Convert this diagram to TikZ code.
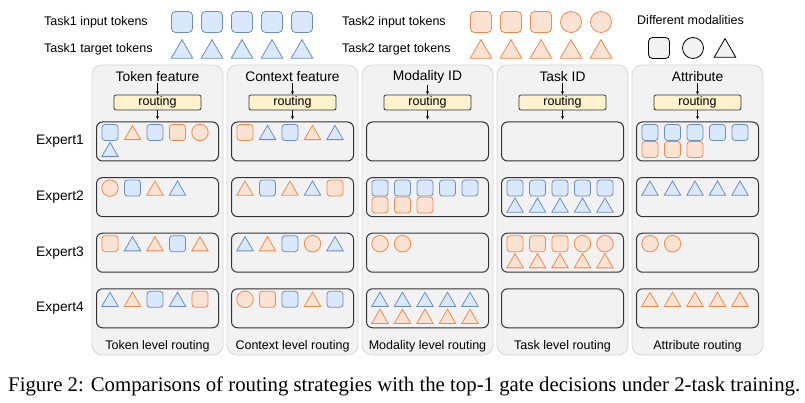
\documentclass[tikz,border=0pt]{standalone}
\usepackage{fontspec}
\setmainfont{Liberation Serif}
\setsansfont{Liberation Sans}
\usetikzlibrary{calc,positioning,shapes.geometric,arrows.meta}

\definecolor{bline}{HTML}{6C8EBF}
\definecolor{bfill}{HTML}{DAE8FC}
\definecolor{oline}{HTML}{F08A4B}
\definecolor{ofill}{HTML}{FBE3D4}
\definecolor{pfill}{HTML}{F2F2F2}
\definecolor{pline}{HTML}{D6D6D6}
\definecolor{rfill}{HTML}{FFF2CC}

\tikzset{
	tk/.style={draw, line width=0.8pt, inner sep=0pt, outer sep=0pt},
	bs/.style={tk, draw=bline, fill=bfill, rectangle, rounded corners=3pt, minimum size=16pt},
	os/.style={tk, draw=oline, fill=ofill, rectangle, rounded corners=3pt, minimum size=16pt},
	ks/.style={tk, draw=black, fill=pfill, rectangle, rounded corners=3pt, minimum size=16pt},
	bt/.style={tk, draw=bline, fill=bfill, regular polygon, regular polygon sides=3, minimum size=19pt, yshift=-2.4pt},
	ot/.style={tk, draw=oline, fill=ofill, regular polygon, regular polygon sides=3, minimum size=19pt, yshift=-2.4pt},
	kt/.style={tk, draw=black, fill=pfill, regular polygon, regular polygon sides=3, minimum size=19pt, yshift=-2.4pt},
	oc/.style={tk, draw=oline, fill=ofill, circle, minimum size=16.5pt},
	kc/.style={tk, draw=black, fill=pfill, circle, minimum size=16.5pt},
	big/.style={minimum size=21pt, rounded corners=4pt},
	bigtri/.style={minimum size=25pt, yshift=-0.7pt},
	panel/.style={draw=pline, fill=pfill, line width=0.8pt, rounded corners=10pt, minimum width=131pt, minimum height=290pt},
	expert/.style={draw=black!80, fill=pfill, line width=1pt, rounded corners=6pt, minimum width=122pt, minimum height=39pt},
	routing/.style={draw=black!80, fill=rfill, line width=0.8pt, rounded corners=2pt, minimum width=87pt, minimum height=15pt, inner sep=0pt, font=\sffamily\fontsize{12.5}{14}\selectfont},
	title/.style={font=\sffamily\fontsize{13.8}{15}\selectfont, inner sep=1pt},
	lbl/.style={font=\sffamily\fontsize{12.5}{14}\selectfont, inner sep=0pt},
	arr/.style={-{Stealth[length=3.5pt,width=3pt]}, line width=0.6pt},
}

% tokens of one line in an expert box: box, line offset, list of styles
\newcommand\tokline[3]{\foreach \k [count=\n] in {#3}{\node[\k] (#1-#2-\n) at ($(#1.north west)+({-8.5+22.5*\n},#2)$) {};}}

\begin{document}
\begin{tikzpicture}[x=1pt,y=-1pt,font=\sffamily]
	\useasboundingbox (0,0) rectangle (805,403);
	%%%%% LEGEND %%%%%
	\node[lbl, anchor=west] (l1) at (44,22) {Task1 input tokens};
	\node[lbl, anchor=west] (l2) at (44,49) {Task1 target tokens};
	\node[lbl, anchor=west] (l3) at (342,22) {Task2 input tokens};
	\node[lbl, anchor=west] (l4) at (342,49) {Task2 target tokens};
	\node[lbl, anchor=west] (l5) at (637,20) {Different modalities};
	\foreach \n in {1,...,5} {
		\node[bs,big] (ai\n) at ({152+30*\n},22) {};
		\node[bt,bigtri] (at\n) at ({152+30*\n},49) {};
		\node[ot,bigtri] (bt\n) at ({451+30*\n},49) {};
	}
	\foreach \k [count=\n] in {os,os,os,oc,oc}
		\node[\k,big] (bi\n) at ({451+30*\n},22) {};
	\node[ks,big] (m1) at (659,48) {};
	\node[kc,big] (m2) at (693,48) {};
	\node[kt,bigtri] (m3) at (725,48) {};
	
	%%%%% PANELS %%%%%
	\foreach \i/\ttl/\bot [evaluate=\i as \px using {92+135*(\i-1)+65.5}] in
		{1/Token feature/Token level routing, 2/Context feature/Context level routing,
		 3/Modality ID/Modality level routing, 4/Task ID/Task level routing, 5/Attribute/Attribute routing} {
		\node[panel] (p\i) at (\px,210) {};
		\node[title] (t\i) at (\px,77) {\ttl};
		\node[routing] (r\i) at (\px,102.5) {routing};
		\foreach \r in {1,...,4}
			\node[expert] (e\i-\r) at (\px,{141.5+55.6*(\r-1)}) {};
		\node[lbl] (b\i) at (\px,346) {\bot};
		\draw[arr] (t\i) -- (r\i);
		\draw[arr, shorten >=2pt] (r\i) -- (e\i-1);
	}
	\foreach \r in {1,...,4}
		\node[title, left=11pt of e1-\r] (x\r) {Expert\r};
	
	%%%%% TOKENS %%%%%
	\tokline{e1-1}{11}{bs,ot,bs,os,oc}
	\tokline{e1-1}{28}{bt}
	\tokline{e1-2}{11}{oc,bs,ot,bt}
	\tokline{e1-3}{11}{os,bt,ot,bs,ot}
	\tokline{e1-4}{11}{bt,ot,bs,bt,os}
	
	\tokline{e2-1}{11}{os,bt,bs,ot,bt}
	\tokline{e2-2}{11}{ot,bs,ot,bt,os}
	\tokline{e2-3}{11}{bt,ot,bs,oc,bt}
	\tokline{e2-4}{11}{oc,os,bs,ot,bs}
	
	\tokline{e3-2}{11}{bs,bs,bs,bs,bs}
	\tokline{e3-2}{28}{os,os,os}
	\tokline{e3-3}{11}{oc,oc}
	\tokline{e3-4}{11}{bt,bt,bt,bt,bt}
	\tokline{e3-4}{28}{ot,ot,ot,ot,ot}
	
	\tokline{e4-2}{11}{bs,bs,bs,bs,bs}
	\tokline{e4-2}{28}{bt,bt,bt,bt,bt}
	\tokline{e4-3}{11}{os,os,os,oc,oc}
	\tokline{e4-3}{28}{ot,ot,ot,ot,ot}
	
	\tokline{e5-1}{11}{bs,bs,bs,bs,bs}
	\tokline{e5-1}{28}{os,os,os}
	\tokline{e5-2}{11}{bt,bt,bt,bt,bt}
	\tokline{e5-3}{11}{oc,oc}
	\tokline{e5-4}{11}{ot,ot,ot,ot,ot}
	
	%%%%% CAPTION %%%%%
	\node[font=\rmfamily\fontsize{20.8}{23}\selectfont, anchor=base west, inner sep=0pt] (cap) at (8,391.7)
		{Figure 2: Comparisons of routing strategies with the top-1 gate decisions under 2-task training.};
\end{tikzpicture}
\end{document}
